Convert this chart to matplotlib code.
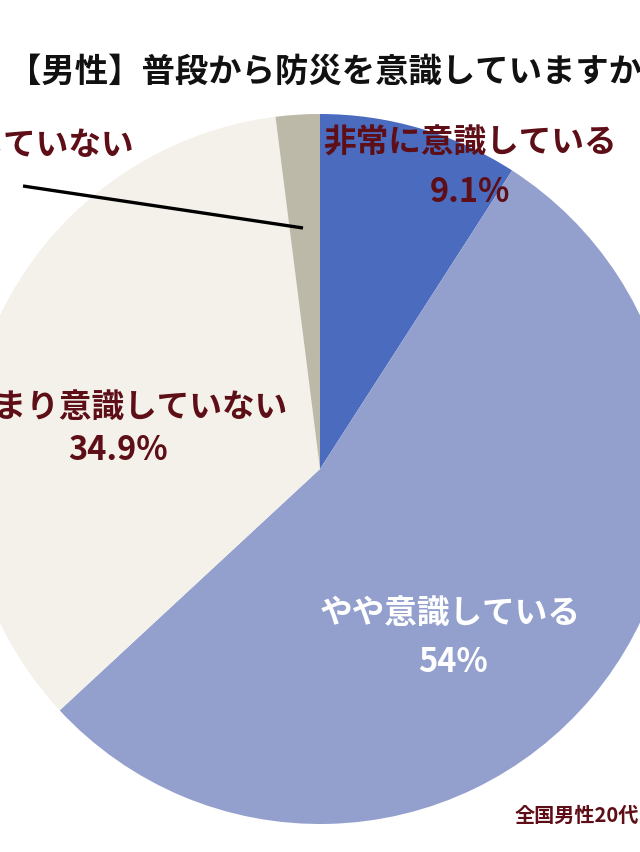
import matplotlib.pyplot as plt

plt.rcParams['font.family'] = ['Noto Sans CJK JP', 'DejaVu Sans']

# データ
labels = ["非常に意識している", "やや意識している", "あまり意識していない", "全く意識していない"]
values = [9.1, 54.0, 34.9, 2.0]
pct_labels = ["9.1%", "54%", "34.9%", "2%"]
colors = ["#4A6BBE", "#93A0CE", "#F3F1EA", "#BDB9A8"]

W, H = 640, 853
dark_red = "#5E0E16"

fig = plt.figure(figsize=(W / 100, H / 100), dpi=100)
ax = fig.add_axes([0, 0, 1, 1])

# 円グラフ (画面座標で中心 320,470 半径 355)
ax.pie(values, colors=colors, startangle=90, counterclock=False,
       center=(320, H - 470), radius=355, frame=True,
       wedgeprops=dict(linewidth=0))
ax.set_xlim(0, W)
ax.set_ylim(0, H)
ax.set_aspect("equal")
ax.axis("off")

# タイトル
ax.text(8, H - 72, "【男性】普段から防災を意識していますか？", fontsize=24,
        fontweight="bold", color="#111111", ha="left", va="center")

# ラベル
ax.text(470, H - 143, labels[0], fontsize=23.5, fontweight="bold",
        color=dark_red, ha="center", va="center")
ax.text(470, H - 192, pct_labels[0], fontsize=23.5, fontweight="bold",
        color=dark_red, ha="center", va="center")

ax.text(450, H - 613, labels[1], fontsize=23.5, fontweight="bold",
        color="white", ha="center", va="center")
ax.text(453, H - 663, pct_labels[1], fontsize=23.5, fontweight="bold",
        color="white", ha="center", va="center")

ax.text(287, H - 407, labels[2], fontsize=23.5, fontweight="bold",
        color=dark_red, ha="right", va="center")
ax.text(118, H - 450, pct_labels[2], fontsize=23.5, fontweight="bold",
        color=dark_red, ha="center", va="center")

ax.text(134, H - 145, labels[3], fontsize=23.5, fontweight="bold",
        color=dark_red, ha="right", va="center")

# 引き出し線
ax.plot([23, 303], [H - 187, H - 229], color="black", linewidth=2.4,
        solid_capstyle="butt")

# 出典
ax.text(515, H - 815, "全国男性20代", fontsize=14.5, fontweight="bold",
        color=dark_red, ha="left", va="center")

fig.savefig("out.png", dpi=100, facecolor="white")
